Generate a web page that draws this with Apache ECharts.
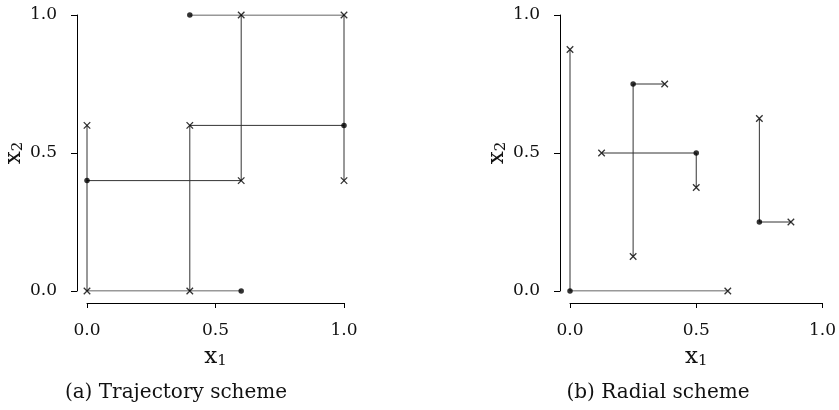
<!DOCTYPE html>
<html>
<head>
<meta charset="utf-8">
<script src="https://cdn.jsdelivr.net/npm/echarts@6/dist/echarts.min.js"></script>
<style>
  html, body { margin: 0; padding: 0; background: #fff; }
  #chart { width: 839px; height: 410px; }
</style>
</head>
<body>
<div id="chart"></div>
<script>
// (a) trajectory scheme: start point, then two one-at-a-time steps
var trajStarts = [[0.4, 1.0], [1.0, 0.6], [0.0, 0.4], [0.6, 0.0]]
var trajStep1 = [[1.0, 1.0], [0.4, 0.6], [0.6, 0.4], [0.0, 0.0]]
var trajStep2 = [[1.0, 0.4], [0.4, 0.0], [0.6, 1.0], [0.0, 0.6]]

// (b) radial scheme: base point, one ray along x1 and one along x2
var radCenters = [[0.0, 0.0], [0.25, 0.75], [0.5, 0.5], [0.75, 0.25]]
var radRayX = [[0.625, 0.0], [0.375, 0.75], [0.125, 0.5], [0.875, 0.25]]
var radRayY = [[0.0, 0.875], [0.25, 0.125], [0.5, 0.375], [0.75, 0.625]]

var ticks = [0.0, 0.5, 1.0]
var captions = ['(a) Trajectory scheme', '(b) Radial scheme']

var FONT = 'DejaVu Serif'
var INK = '#111'
var CROSS = 'path://M0,0L10,10M10,0L0,10'

function axisName (sub, gap) {
  return {
    name: '{x|x}{s|' + sub + '}', nameLocation: 'middle', nameGap: gap,
    nameTextStyle: {rich: {
      x: {fontFamily: FONT, fontSize: 23, color: INK},
      s: {fontFamily: FONT, fontSize: 15, color: INK, verticalAlign: 'bottom', padding: [9, 0, 0, 0]}
    }}
  }
}

function axisX (gi) {
  return Object.assign({
    type: 'value', gridIndex: gi, min: ticks[0], max: ticks[ticks.length - 1], interval: ticks[1] - ticks[0],
    offset: 12,
    splitLine: {show: false},
    axisLine: {onZero: false, lineStyle: {color: '#000', width: 1}},
    axisTick: {length: 5, lineStyle: {color: '#000'}},
    axisLabel: {color: INK, fontFamily: FONT, fontSize: 17, margin: 19, formatter: function (v) { return v.toFixed(1) }}
  }, axisName('1', 42))
}
function axisY (gi) {
  return Object.assign({
    type: 'value', gridIndex: gi, min: ticks[0], max: ticks[ticks.length - 1], interval: ticks[1] - ticks[0],
    offset: 10,
    splitLine: {show: false},
    axisLine: {show: true, onZero: false, lineStyle: {color: '#000', width: 1}},
    axisTick: {show: true, length: 6, lineStyle: {color: '#000'}},
    axisLabel: {color: INK, fontFamily: FONT, fontSize: 17, margin: 20, formatter: function (v) { return v.toFixed(1) }}
  }, axisName('2', 48))
}

function lineSeries (gi, pts) {
  return {
    type: 'line', xAxisIndex: gi, yAxisIndex: gi, data: pts, symbol: 'none', silent: true,
    lineStyle: {color: '#333', width: 1}, z: 2
  }
}

var series = []
for (var i = 0; i < trajStarts.length; i++) {
  series.push(lineSeries(0, [trajStarts[i], trajStep1[i], trajStep2[i]]))
}
for (var j = 0; j < radCenters.length; j++) {
  series.push(lineSeries(1, [radRayX[j], radCenters[j], radRayY[j]]))
}
series.push({type: 'scatter', xAxisIndex: 0, yAxisIndex: 0, data: trajStep1.concat(trajStep2),
  symbol: CROSS, symbolSize: 6.5, itemStyle: {color: 'none', borderColor: '#000', borderWidth: 1.3}, z: 3})
series.push({type: 'scatter', xAxisIndex: 0, yAxisIndex: 0, data: trajStarts,
  symbol: 'circle', symbolSize: 5.5, itemStyle: {color: '#000'}, z: 4})
series.push({type: 'scatter', xAxisIndex: 1, yAxisIndex: 1, data: radRayX.concat(radRayY),
  symbol: CROSS, symbolSize: 6.5, itemStyle: {color: 'none', borderColor: '#000', borderWidth: 1.3}, z: 3})
series.push({type: 'scatter', xAxisIndex: 1, yAxisIndex: 1, data: radCenters,
  symbol: 'circle', symbolSize: 5.5, itemStyle: {color: '#000'}, z: 4})

var chart = echarts.init(document.getElementById('chart'))
chart.setOption({
  animation: false,
  grid: [
    {left: 87, top: 15, width: 257, height: 276},
    {left: 570, top: 15, width: 257, height: 276}
  ],
  xAxis: [axisX(0), axisX(1)],
  yAxis: [axisY(0), axisY(1)],
  graphic: [
    {type: 'text', x: 176, y: 393, style: {text: captions[0], fontFamily: FONT, fontSize: 20, fill: INK, align: 'center', verticalAlign: 'middle'}},
    {type: 'text', x: 658, y: 393, style: {text: captions[1], fontFamily: FONT, fontSize: 20, fill: INK, align: 'center', verticalAlign: 'middle'}}
  ],
  series: series
})
</script>
</body>
</html>
